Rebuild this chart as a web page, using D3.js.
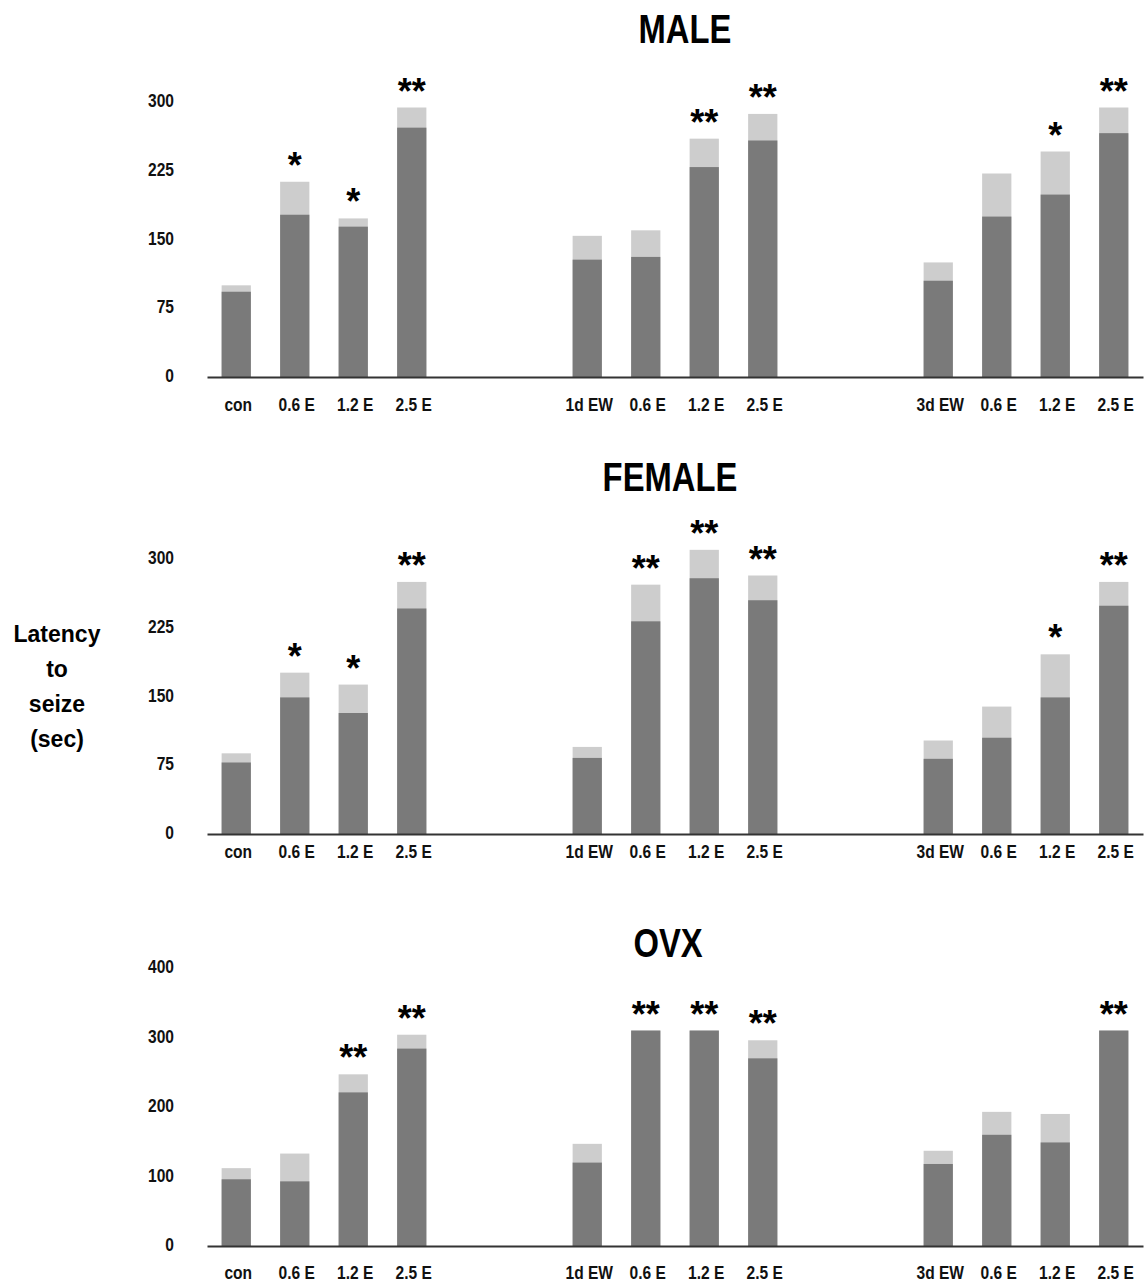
<!DOCTYPE html>
<html>
<head>
<meta charset="utf-8">
<script src="https://cdn.jsdelivr.net/npm/d3@7"></script>
<style>
  body { margin: 0; background: #fff; }
</style>
</head>
<body>
<svg width="1145" height="1283"></svg>
<script>
// groups of bars: control / 1d withdrawal / 3d withdrawal, each followed by 3 ethanol doses
var labels = ["con", "0.6 E", "1.2 E", "2.5 E", "1d EW", "0.6 E", "1.2 E", "2.5 E", "3d EW", "0.6 E", "1.2 E", "2.5 E"];
var slots = [0, 1, 2, 3, 6, 7, 8, 9, 12, 13, 14, 15];

var maleMean = [93, 177, 164, 272, 128, 131, 229, 258, 105, 175, 199, 266];
var maleSem = [7, 36, 9, 22, 26, 29, 31, 29, 20, 47, 47, 28];
var maleSig = ["", "*", "*", "**", "", "", "**", "**", "", "", "*", "**"];

var femaleMean = [78, 149, 132, 246, 83, 232, 279, 255, 82, 105, 149, 249];
var femaleSem = [10, 27, 31, 29, 12, 40, 31, 27, 20, 34, 47, 26];
var femaleSig = ["", "*", "*", "**", "", "**", "**", "**", "", "", "*", "**"];

var ovxMean = [96, 93, 221, 284, 120, 310, 310, 270, 118, 160, 149, 310];
var ovxSem = [16, 40, 26, 20, 27, 0, 0, 26, 19, 33, 41, 0];
var ovxSig = ["", "", "**", "**", "", "**", "**", "**", "", "", "", "**"];

var ticks300 = [0, 75, 150, 225, 300];
var ticks400 = [0, 100, 200, 300, 400];

var panels = [
  { title: "MALE", mean: maleMean, sem: maleSem, sig: maleSig, ticks: ticks300, max: 300,
    y0: 377, y1: 102, titleX: 685, titleY: 43, labelDy: 34 },
  { title: "FEMALE", mean: femaleMean, sem: femaleSem, sig: femaleSig, ticks: ticks300, max: 300,
    y0: 834, y1: 559, titleX: 670, titleY: 491, labelDy: 24 },
  { title: "OVX", mean: ovxMean, sem: ovxSem, sig: ovxSig, ticks: ticks400, max: 400,
    y0: 1246, y1: 968, titleX: 668, titleY: 957, labelDy: 33 }
];

var font = "Liberation Sans, Arial, sans-serif",
    squeeze = 0.82;   // no narrow face installed, so compress horizontally

var svg = d3.select("svg");

var x = d3.scaleBand()
    .domain(d3.range(16))
    .range([207, 1143])
    .paddingInner(0.5)
    .paddingOuter(0.25);

panels.forEach(function(p) {
  var y = d3.scaleLinear().domain([0, p.max]).range([p.y0, p.y1]);
  var g = svg.append("g");

  var rows = p.mean.map(function(m, i) {
    return { slot: slots[i], mean: m, top: m + p.sem[i], sig: p.sig[i] };
  });

  // sem cap (light) behind the mean bar
  g.selectAll("rect.sem")
    .data(rows)
    .enter().append("rect")
      .attr("class", "sem")
      .attr("x", function(d) { return x(d.slot); })
      .attr("width", x.bandwidth())
      .attr("y", function(d) { return y(d.top); })
      .attr("height", function(d) { return y(0) - y(d.top); })
      .attr("fill", "#cdcdcd");

  g.selectAll("rect.mean")
    .data(rows)
    .enter().append("rect")
      .attr("class", "mean")
      .attr("x", function(d) { return x(d.slot); })
      .attr("width", x.bandwidth())
      .attr("y", function(d) { return y(d.mean); })
      .attr("height", function(d) { return y(0) - y(d.mean); })
      .attr("fill", "#7a7a7a");

  g.selectAll("text.sig")
    .data(rows.filter(function(d) { return d.sig; }))
    .enter().append("text")
      .attr("class", "sig")
      .attr("x", function(d) { return x(d.slot) + x.bandwidth() / 2; })
      .attr("y", function(d) { return y(d.top) - 4; })
      .attr("text-anchor", "middle")
      .style("font-family", font)
      .style("font-weight", "bold")
      .style("font-size", "36px")
      .text(function(d) { return d.sig; });

  // x axis
  var xa = g.append("g")
      .attr("transform", "translate(0," + p.y0 + ")")
      .call(d3.axisBottom(x).tickValues(slots).tickSize(0).tickSizeOuter(0)
        .tickFormat(function(d, i) { return labels[i]; }));
  xa.select(".domain").attr("stroke", "#333").attr("stroke-width", 2);
  xa.selectAll("text")
      .attr("y", 0)
      .attr("dy", 0)
      .attr("transform", "translate(2," + p.labelDy + ") scale(" + squeeze + ",1)")
      .style("font-family", font)
      .style("font-weight", "bold")
      .style("font-size", "19px")
      .style("fill", "#111");

  // y axis, labels only
  var ya = g.append("g")
      .attr("transform", "translate(174,0)")
      .call(d3.axisLeft(y).tickValues(p.ticks).tickSize(0).tickPadding(0));
  ya.select(".domain").remove();
  ya.selectAll("text")
      .attr("x", 0)
      .attr("y", 0)
      .attr("dy", "0.35em")
      .attr("transform", "translate(0,-2) scale(" + squeeze + ",1)")
      .style("font-family", font)
      .style("font-weight", "bold")
      .style("font-size", "19px")
      .style("fill", "#111");

  svg.append("text")
      .attr("transform", "translate(" + p.titleX + "," + p.titleY + ") scale(" + squeeze + ",1)")
      .attr("text-anchor", "middle")
      .style("font-family", font)
      .style("font-size", "40px")
      .style("font-weight", "bold")
      .text(p.title);
});

// shared y title
svg.append("text")
    .attr("x", 57)
    .attr("y", 642)
    .attr("text-anchor", "middle")
    .style("font-family", font)
    .style("font-size", "23px")
    .style("font-weight", "bold")
  .selectAll("tspan")
  .data(["Latency", "to", "seize", "(sec)"])
  .enter().append("tspan")
    .attr("x", 57)
    .attr("dy", function(d, i) { return i ? 35 : 0; })
    .text(function(d) { return d; });
</script>
</body>
</html>
